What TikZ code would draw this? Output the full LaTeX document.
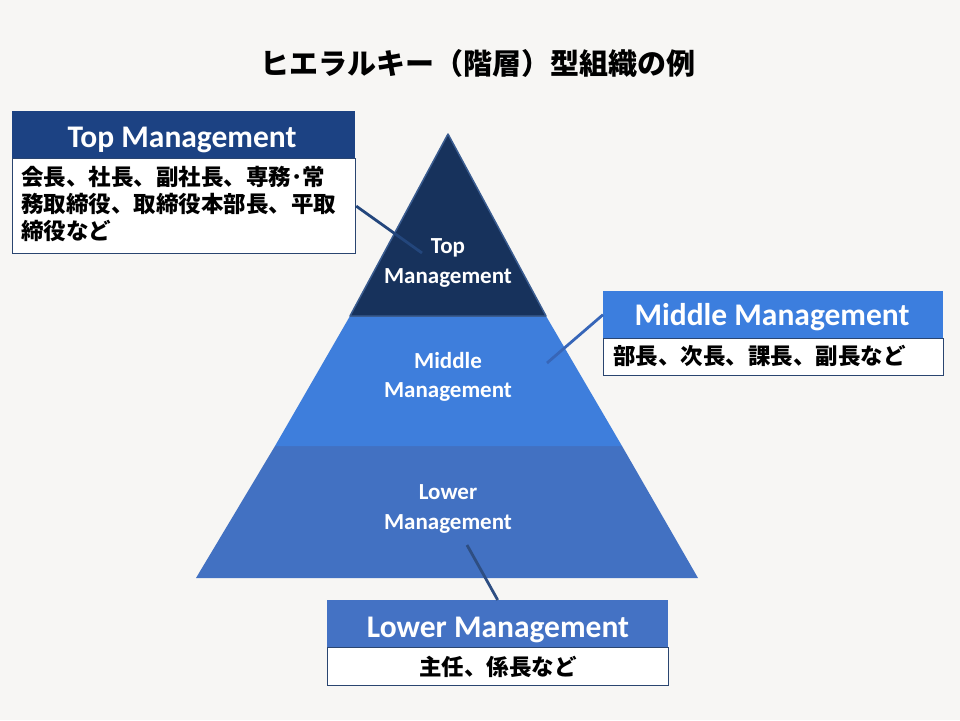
\documentclass[tikz,border=0pt]{standalone}
\usepackage{fontspec}
\setmainfont{Carlito}
\newfontfamily\cjk{Noto Sans CJK JP}
\definecolor{bgc}{HTML}{F7F6F4}
\definecolor{tiertop}{HTML}{17325C}
\definecolor{tiertopline}{HTML}{3A5C90}
\definecolor{tiermid}{HTML}{3E7EDC}
\definecolor{tierlow}{HTML}{4271C2}
\definecolor{headtop}{HTML}{1C4283}
\definecolor{headmid}{HTML}{3C7EDE}
\definecolor{headlow}{HTML}{4472C4}
\definecolor{boxline}{HTML}{2A4570}
\definecolor{conntop}{HTML}{23467C}
\definecolor{connmid}{HTML}{3766B8}
\definecolor{connlow}{HTML}{2E4E82}
\tikzset{
  tiertext/.style={text=white, font=\fontsize{23}{29.5}\selectfont\bfseries, align=center, inner sep=0pt},
  headbox/.style={rectangle, minimum height=47pt, inner sep=0pt},
  headtext/.style={anchor=base, inner sep=0pt, text=white, font=\fontsize{31.5}{36}\selectfont\bfseries},
  bodybox/.style={rectangle, draw=boxline, line width=1.2pt, fill=white, inner sep=0pt},
  bodytext/.style={inner sep=0pt, text=black, font=\cjk\bfseries\fontsize{22.5}{27}\selectfont},
  conn/.style={line width=2.8pt}
}
\begin{document}
\begin{tikzpicture}[x=1pt,y=-1pt]
\fill[bgc] (0,0) rectangle (960,720);
\useasboundingbox (0,0) rectangle (960,720);
% title
\node (title) at (478,63) {\cjk\bfseries\fontsize{29}{34}\selectfont ヒエラルキー（階層）型組織の例};
% pyramid
\fill[tierlow] (275,446) -- (622,446) -- (698,578) -- (196,578) -- cycle;
\fill[tiermid] (350,316) -- (546,316) -- (622,446) -- (275,446) -- cycle;
\filldraw[fill=tiertop, draw=tiertopline, line width=1.5pt, line join=round] (448,134) -- (546,316) -- (350,316) -- cycle;
\node[tiertext] (ttop) at (448,263) {Top\\Management};
\node[tiertext] (tmid) at (448,377) {Middle\\Management};
\node[tiertext] (tlow) at (448,509) {Lower\\Management};
% connector end points
\coordinate (ctop) at (422,253);
\coordinate (cmid) at (547,363);
\coordinate (clow) at (467,545);
% top box
\node[headbox, fill=headtop, minimum width=343pt, anchor=north west] (tophead) at (12,111) {};
\node[headtext] (tophtext) at (182,147) {Top Management};
\node[bodybox, minimum width=343pt, minimum height=95pt, anchor=north west] (topbody) at (12,158) {};
\node[bodytext, anchor=north west, align=left] (toptext) at (21,166) {会長、社長、副社長、専務･常\\務取締役、取締役本部長、平取\\締役など};
% middle box
\node[headbox, fill=headmid, minimum width=340pt, anchor=north west] (midhead) at (603,291) {};
\node[headtext] (midhtext) at (772,325) {Middle Management};
\node[bodybox, minimum width=340pt, minimum height=37pt, anchor=north west] (midbody) at (603,338) {};
\node[bodytext, anchor=west] (midtext) at (613,356) {部長、次長、課長、副長など};
% lower box
\node[headbox, fill=headlow, minimum width=341pt, anchor=north west] (lowhead) at (327,600) {};
\node[headtext] (lowhtext) at (498,637) {Lower Management};
\node[bodybox, minimum width=341pt, minimum height=38pt, anchor=north west] (lowbody) at (327,647) {};
\node[bodytext] (lowtext) at (lowbody.center) {主任、係長など};
% connectors
\draw[conn, draw=conntop] (topbody.east) -- (ctop);
\draw[conn, draw=connmid] (midhead.west) -- (cmid);
\draw[conn, draw=connlow] (lowhead.north) -- (clow);
\end{tikzpicture}
\end{document}
